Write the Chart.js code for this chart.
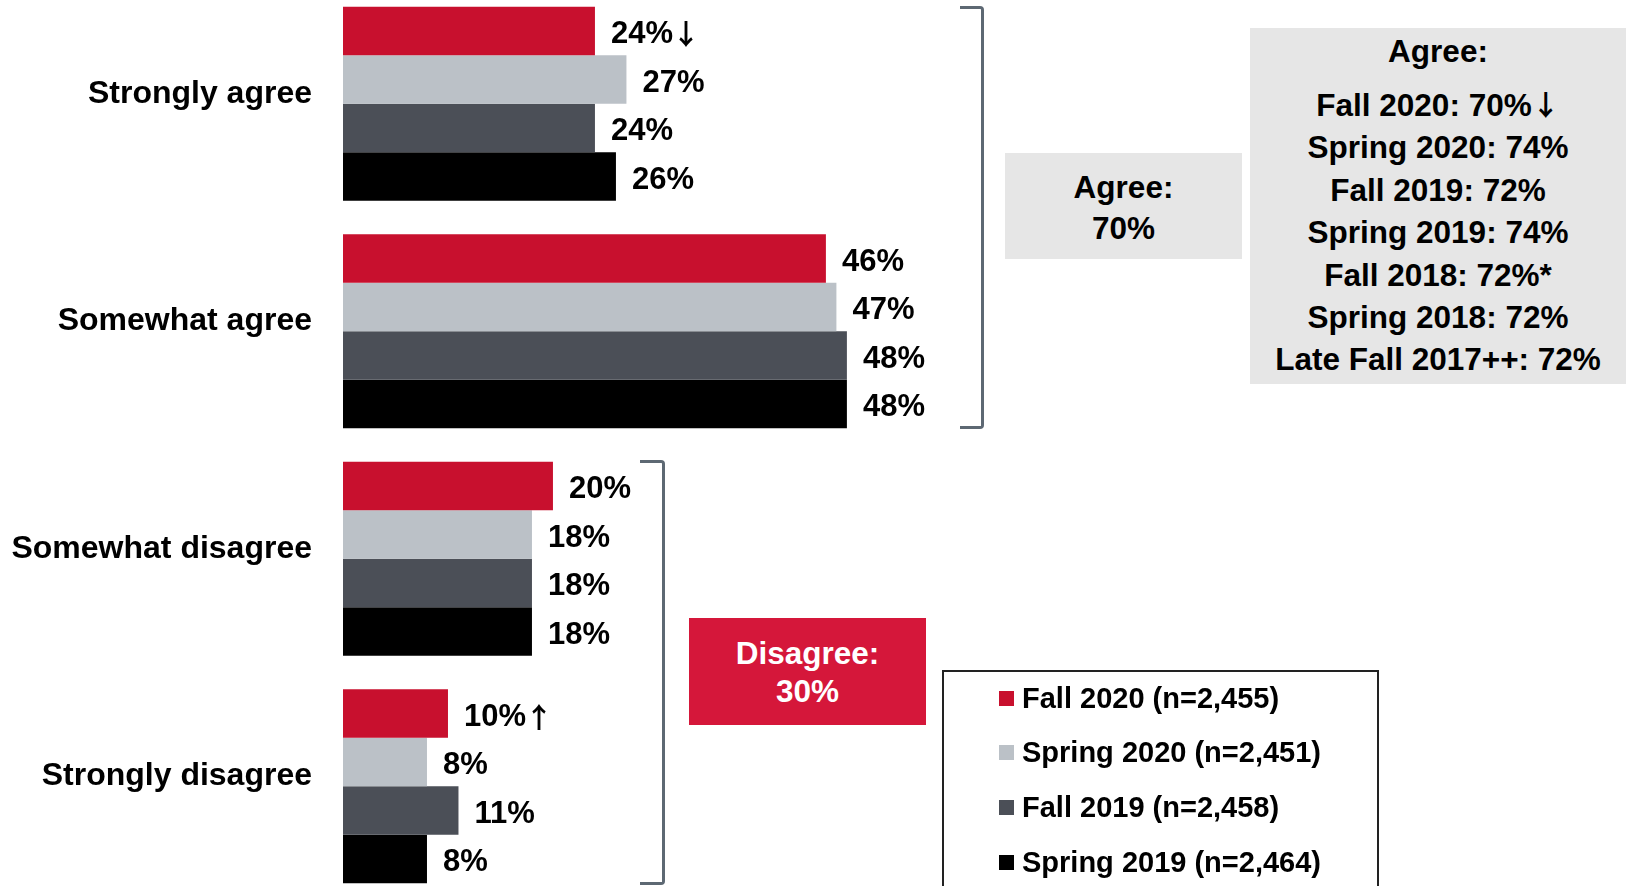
<!DOCTYPE html>
<html>
<head>
<meta charset="utf-8">
<script src="https://cdn.jsdelivr.net/npm/chart.js@4/dist/chart.umd.min.js"></script>
<style>
  html, body { margin: 0; padding: 0; background: #fff; overflow: hidden; }
  body { width: 1629px; height: 886px; position: relative; font-family: "Liberation Sans", Arial, sans-serif; font-weight: bold; color: #000; }
  #chart { position: absolute; left: 0; top: -10px; }
  .bracket { position: absolute; box-sizing: border-box; border: 3px solid #5d6873; border-left: none; border-radius: 0 4px 4px 0; }
  .box { position: absolute; box-sizing: border-box; display: flex; flex-direction: column; align-items: center; justify-content: center; font-size: 31.5px; text-align: center; }
  .box div { white-space: nowrap; }
  .arrow { font-family: "Noto Sans CJK SC", "DejaVu Sans", sans-serif; font-weight: bold; font-size: 28px; line-height: 0; }
  #trend { position: absolute; left: 1250px; top: 28px; width: 376px; height: 356px; background: #e6e6e6; box-sizing: border-box; padding-top: 2px; font-size: 31.5px; text-align: center; }
  #trend .title { line-height: 42px; margin-bottom: 12px; }
  #trend .row { line-height: 42.4px; height: 42.4px; white-space: nowrap; }
  #legend { position: absolute; left: 942px; top: 670px; width: 437px; height: 240px; box-sizing: border-box; border: 2px solid #222; }
  #legend .item { position: absolute; left: 55px; height: 40px; display: flex; align-items: center; font-size: 29px; white-space: nowrap; }
  #legend .sw { width: 15px; height: 15px; margin-right: 8px; }
</style>
</head>
<body>
<canvas id="chart" width="1629" height="910"></canvas>

<div class="bracket" style="left:960px; top:6px; width:24px; height:423px;"></div>
<div class="bracket" style="left:640px; top:460px; width:25px; height:425px;"></div>

<div class="box" id="agreeBox" style="left:1005px; top:153px; width:237px; height:106px; padding-top:3px; background:#e6e6e6; line-height:40.5px;"></div>
<div class="box" id="disagreeBox" style="left:689px; top:618px; width:237px; height:107px; padding-top:1px; background:#d5173a; color:#fff; line-height:38.5px;"></div>
<div id="trend"></div>
<div id="legend"></div>

<script>
// categories and series
const categories = ['Strongly agree', 'Somewhat agree', 'Somewhat disagree', 'Strongly disagree'];
const seriesNames = ['Fall 2020 (n=2,455)', 'Spring 2020 (n=2,451)', 'Fall 2019 (n=2,458)', 'Spring 2019 (n=2,464)'];
const fall2020 = [24, 46, 20, 10];
const spring2020 = [27, 47, 18, 8];
const fall2019 = [24, 48, 18, 11];
const spring2019 = [26, 48, 18, 8];
const fall2020Marks = ['\u2193', '', '', '\u2191'];   // significance arrows
const colors = ['#c8102e', '#bbc1c7', '#4b4f57', '#000000'];

// agree trend box
const trendTerms = ['Fall 2020', 'Spring 2020', 'Fall 2019', 'Spring 2019', 'Fall 2018', 'Spring 2018', 'Late Fall 2017++'];
const trendAgree = [70, 74, 72, 74, 72, 72, 72];
const trendMarks = ['\u2193', '', '', '', '*', '', ''];

const FONT = '"Liberation Sans", Arial, sans-serif';
const ARROW_FONT = 'bold 28px "Noto Sans CJK SC", "DejaVu Sans", sans-serif';
Chart.defaults.font.family = FONT;

const valueLabels = {
  id: 'valueLabels',
  afterDatasetsDraw(chart) {
    const ctx = chart.ctx;
    ctx.save();
    ctx.fillStyle = '#000';
    ctx.textAlign = 'left';
    ctx.textBaseline = 'middle';
    chart.data.datasets.forEach((ds, i) => {
      chart.getDatasetMeta(i).data.forEach((bar, j) => {
        const txt = ds.data[j] + '%';
        ctx.font = 'bold 31px ' + FONT;
        ctx.fillText(txt, bar.x + 16, bar.y + 3.5);
        if (ds.marks && ds.marks[j]) {
          const w = ctx.measureText(txt).width;
          ctx.font = ARROW_FONT;
          ctx.fillText(ds.marks[j], bar.x + 16 + w - 1, bar.y + 3.5);
        }
      });
    });
    ctx.restore();
  }
};

const allSeries = [fall2020, spring2020, fall2019, spring2019];

const chart = new Chart(document.getElementById('chart'), {
  type: 'bar',
  data: {
    labels: categories,
    datasets: allSeries.map((d, i) => ({
      label: seriesNames[i],
      data: d,
      backgroundColor: colors[i],
      borderWidth: 0,
      barPercentage: 1,
      categoryPercentage: 0.853,
      marks: i === 0 ? fall2020Marks : null
    }))
  },
  options: {
    indexAxis: 'y',
    responsive: false,
    animation: false,
    layout: { padding: 0 },
    plugins: { legend: { display: false }, tooltip: { enabled: false } },
    scales: {
      x: { display: false, min: 0, max: 122.5 },
      y: {
        grid: { display: false, drawTicks: false },
        border: { display: false },
        ticks: { padding: 31, labelOffset: -10, color: '#000', font: { size: 32, weight: 'bold' } },
        afterFit(scale) {
          scale.width = 343;
          scale.paddingTop = 0;
          scale.paddingBottom = 0;
        }
      }
    }
  },
  plugins: [valueLabels]
});

// summary boxes
const agreeTotal = fall2020[0] + fall2020[1];
const disagreeTotal = fall2020[2] + fall2020[3];
document.getElementById('agreeBox').innerHTML = '<div>Agree:</div><div>' + agreeTotal + '%</div>';
document.getElementById('disagreeBox').innerHTML = '<div>Disagree:</div><div>' + disagreeTotal + '%</div>';

let trendHtml = '<div class="title">Agree:</div>';
trendTerms.forEach((t, i) => {
  const mark = trendMarks[i] === '\u2193' ? '<span class="arrow">' + trendMarks[i] + '</span>' : trendMarks[i];
  trendHtml += '<div class="row">' + t + ': ' + trendAgree[i] + '%' + mark + '</div>';
});
document.getElementById('trend').innerHTML = trendHtml;

// legend from chart datasets
const legend = document.getElementById('legend');
const rowTops = [6, 60, 115, 170];
chart.data.datasets.forEach((ds, i) => {
  const item = document.createElement('div');
  item.className = 'item';
  item.style.top = rowTops[i] + 'px';
  item.innerHTML = '<span class="sw" style="background:' + ds.backgroundColor + '"></span>' + ds.label;
  legend.appendChild(item);
});
</script>
</body>
</html>
